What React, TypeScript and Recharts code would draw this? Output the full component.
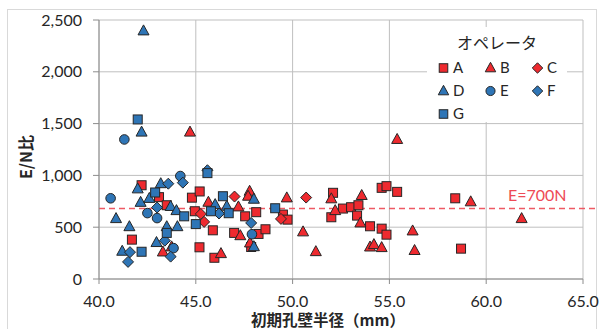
import React from 'react';
import {
  ScatterChart,
  Scatter,
  XAxis,
  YAxis,
  CartesianGrid,
  ReferenceLine,
} from 'recharts';

// 初期孔壁半径 (mm), E/N比
const opA: [number, number][] = [
  [41.7, 380], [42.2, 905], [43.1, 790], [43.5, 712], [44.8, 785], [45.2, 845],
  [44.95, 654], [45.19, 306], [45.88, 470], [45.96, 205], [46.98, 445], [47.55, 605],
  [48.12, 645], [48.24, 435], [48.6, 480], [47.86, 309], [49.5, 622], [49.74, 573],
  [52.09, 832], [52.0, 596], [52.6, 680], [53.02, 693], [53.4, 712], [53.33, 612],
  [54.0, 509], [54.6, 486], [54.85, 428], [54.6, 880], [54.85, 896], [55.4, 841],
  [58.4, 779], [58.7, 293],
];
const opB: [number, number][] = [
  [43.3, 261], [43.75, 310], [44.7, 1418], [45.65, 741], [47.78, 847], [47.7, 799],
  [47.2, 696], [47.3, 418], [47.8, 348], [46.3, 245], [49.7, 783], [50.54, 455],
  [51.2, 264], [52.0, 774], [52.2, 660], [53.57, 806], [53.5, 541], [54.0, 309],
  [54.2, 332], [54.6, 303], [55.4, 1347], [56.2, 464], [56.3, 275], [59.2, 745],
  [61.83, 583],
];
const opC: [number, number][] = [
  [45.26, 628], [45.43, 551], [47.0, 796], [49.4, 580], [50.7, 786],
];
const opD: [number, number][] = [
  [40.88, 583], [41.57, 505], [41.2, 268], [42.0, 870], [42.15, 740], [42.3, 2395],
  [42.2, 1418], [42.6, 778], [43.19, 920], [42.97, 352], [43.5, 505], [43.7, 700],
  [44.0, 660], [44.05, 505], [46.0, 718], [46.6, 702], [48.0, 770], [48.0, 312],
];
const opE: [number, number][] = [
  [40.6, 779], [41.31, 1347], [42.5, 636], [43.0, 588], [44.2, 994], [43.85, 298],
  [47.9, 432],
];
const opF: [number, number][] = [
  [41.6, 259], [41.5, 165], [43.0, 690], [43.58, 920], [44.33, 930], [43.4, 370],
  [43.7, 216], [46.2, 632], [47.86, 541], [45.6, 1050],
];
const opG: [number, number][] = [
  [42.0, 1540], [42.2, 263], [42.9, 835], [43.5, 445], [44.4, 605], [45.0, 530],
  [45.6, 1022], [46.4, 799], [45.78, 654], [46.7, 635], [49.1, 683],
];

const xTicks = [40, 45, 50, 55, 60, 65];
const yTicks = [0, 500, 1000, 1500, 2000, 2500];
const threshold = 680;

const RED = '#EE2A2F';
const BLUE = '#2E75B6';
const EDGE = '#262626';

type Kind = 'square' | 'triangle' | 'diamond' | 'circle';

const series: { name: string; data: [number, number][]; kind: Kind; color: string }[] = [
  { name: 'A', data: opA, kind: 'square', color: RED },
  { name: 'B', data: opB, kind: 'triangle', color: RED },
  { name: 'C', data: opC, kind: 'diamond', color: RED },
  { name: 'D', data: opD, kind: 'triangle', color: BLUE },
  { name: 'E', data: opE, kind: 'circle', color: BLUE },
  { name: 'F', data: opF, kind: 'diamond', color: BLUE },
  { name: 'G', data: opG, kind: 'square', color: BLUE },
];

const drawMarker = (kind: Kind, cx: number, cy: number, fill: string, s = 1) => {
  const st = { fill, stroke: EDGE, strokeWidth: 1 };
  if (kind === 'square') {
    const h = 4.5 * s;
    return <rect x={cx - h} y={cy - h} width={h * 2} height={h * 2} {...st} />;
  }
  if (kind === 'triangle') {
    const w = 5.5 * s;
    return (
      <polygon
        points={`${cx},${cy - 6 * s} ${cx + w},${cy + 4 * s} ${cx - w},${cy + 4 * s}`}
        {...st}
      />
    );
  }
  if (kind === 'diamond') {
    const h = 5.5 * s;
    return (
      <polygon points={`${cx},${cy - h} ${cx + h},${cy} ${cx},${cy + h} ${cx - h},${cy}`} {...st} />
    );
  }
  return <circle cx={cx} cy={cy} r={4.8 * s} {...st} />;
};

const jp = '"Noto Sans CJK JP", sans-serif';
const num = 'Lato, "Noto Sans", sans-serif';

const LegendMark = ({ kind, color }: { kind: Kind; color: string }) => (
  <svg width={13} height={13} style={{ display: 'block' }}>
    {drawMarker(kind, 6.5, 7, color, 0.95)}
  </svg>
);

const ThresholdLabel = (props: any) => {
  const vb = props.viewBox || {};
  return (
    <text
      x={vb.x + vb.width - 29}
      y={vb.y - 8}
      textAnchor="end"
      fill="#EE4A55"
      fontSize={16}
      fontFamily={num}
    >
      E=700N
    </text>
  );
};

export default function App() {
  return (
    <div
      style={{
        position: 'absolute',
        left: 0,
        top: 0,
        width: 602,
        height: 329,
        background: '#fff',
        overflow: 'hidden',
      }}
    >
      <div
        style={{
          position: 'absolute',
          left: 7,
          top: 9,
          width: 590,
          height: 330,
          border: '1px solid #D9D9D9',
          boxSizing: 'border-box',
        }}
      />
      <ScatterChart
        width={602}
        height={329}
        margin={{ top: 20, right: 19, bottom: 0, left: 0 }}
        style={{ position: 'absolute', left: 0, top: 0 }}
      >
        <CartesianGrid stroke="#BFBFBF" strokeWidth={1} />
        <XAxis
          type="number"
          dataKey="x"
          domain={[40, 65]}
          ticks={xTicks}
          tickFormatter={(v: number) => v.toFixed(1)}
          height={50}
          tickSize={5}
          tickMargin={12}
          axisLine={{ stroke: '#8C8C8C' }}
          tickLine={{ stroke: '#8C8C8C' }}
          tick={{ fill: '#262626', fontSize: 16, fontFamily: num }}
          allowDataOverflow
        />
        <YAxis
          type="number"
          dataKey="y"
          domain={[0, 2500]}
          ticks={yTicks}
          tickFormatter={(v: number) => v.toLocaleString('en-US')}
          width={99}
          tickSize={6}
          tickMargin={11}
          axisLine={{ stroke: '#8C8C8C' }}
          tickLine={{ stroke: '#8C8C8C' }}
          tick={{ fill: '#262626', fontSize: 16, fontFamily: num }}
          allowDataOverflow
        />
        <ReferenceLine
          segment={[
            { x: 40, y: threshold },
            { x: 65.65, y: threshold },
          ]}
          ifOverflow="visible"
          stroke="#EE5A63"
          strokeWidth={1.5}
          strokeDasharray="6 4"
          label={<ThresholdLabel />}
        />
        {series.map((s) => (
          <Scatter
            key={s.name}
            name={s.name}
            data={s.data.map(([x, y]) => ({ x, y }))}
            isAnimationActive={false}
            shape={(p: any) => drawMarker(s.kind, p.cx, p.cy, s.color)}
          />
        ))}
      </ScatterChart>

      {/* legend box */}
      <div
        style={{
          position: 'absolute',
          left: 427,
          top: 27,
          width: 140,
          height: 95,
          background: '#fff',
        }}
      >
        <div
          style={{
            position: 'absolute',
            left: 0,
            width: 140,
            top: 5,
            textAlign: 'center',
            fontFamily: jp,
            fontSize: 16,
            lineHeight: '20px',
            color: '#262626',
          }}
        >
          オペレータ
        </div>
        {series.map((s, i) => (
          <div
            key={s.name}
            style={{
              position: 'absolute',
              left: 10 + (i % 3) * 47,
              top: 31 + Math.floor(i / 3) * 23,
              display: 'flex',
              alignItems: 'center',
              gap: 3,
              fontFamily: num,
              fontSize: 15,
              lineHeight: '18px',
              color: '#262626',
            }}
          >
            <LegendMark kind={s.kind} color={s.color} />
            <span>{s.name}</span>
          </div>
        ))}
      </div>

      {/* axis titles */}
      <div
        style={{
          position: 'absolute',
          left: 25,
          top: 157,
          transform: 'translate(-50%, -50%) rotate(-90deg)',
          fontFamily: jp,
          fontWeight: 700,
          fontSize: 16,
          lineHeight: 1,
          whiteSpace: 'nowrap',
          color: '#262626',
        }}
      >
        E/N比
      </div>
      <div
        style={{
          position: 'absolute',
          left: 328,
          top: 320,
          transform: 'translate(-50%, -50%)',
          fontFamily: jp,
          fontWeight: 700,
          fontSize: 15.5,
          lineHeight: 1,
          whiteSpace: 'nowrap',
          color: '#262626',
        }}
      >
        初期孔壁半径（mm）
      </div>
    </div>
  );
}
